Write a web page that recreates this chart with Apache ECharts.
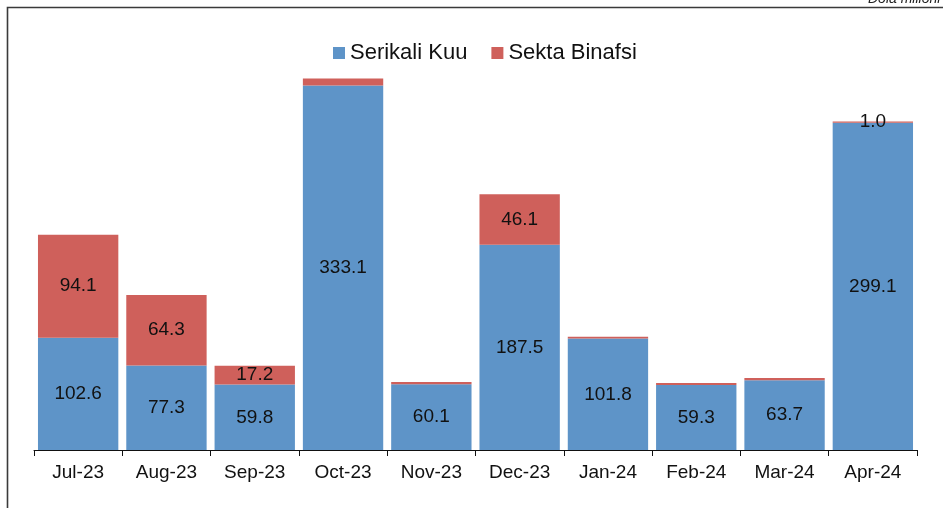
<!DOCTYPE html>
<html>
<head>
<meta charset="utf-8">
<script src="https://cdn.jsdelivr.net/npm/echarts@6/dist/echarts.min.js"></script>
<style>
  html, body { margin: 0; padding: 0; background: #fff; }
  #chart { width: 943px; height: 508px; }
</style>
</head>
<body>
<div id="chart"></div>
<script>
// miezi
var months = ['Jul-23', 'Aug-23', 'Sep-23', 'Oct-23', 'Nov-23', 'Dec-23', 'Jan-24', 'Feb-24', 'Mar-24', 'Apr-24'];
// Dola milioni
var serikaliKuu = [102.6, 77.3, 59.8, 333.1, 60.1, 187.5, 101.8, 59.3, 63.7, 299.1];
var sektaBinafsi = [94.1, 64.3, 17.2, 6.3, 2.0, 46.1, 1.8, 2.0, 2.2, 1.0];
// which red values get a label
var showRedLabel = [true, true, true, false, false, true, false, false, false, true];

var chart = echarts.init(document.getElementById('chart'));

var labelFont = {
  fontFamily: 'Liberation Sans, Arial, sans-serif',
  fontSize: 19,
  color: '#111'
};

chart.setOption({
  animation: false,
  graphic: [
    {
      type: 'rect',
      shape: { x: 7.5, y: 7.5, width: 1000, height: 1000 },
      style: { fill: 'none', stroke: '#3a3a3a', lineWidth: 1.6 }
    },
    {
      type: 'text',
      style: {
        text: 'Dola milioni',
        x: 868, y: -8,
        align: 'left', verticalAlign: 'top',
        font: 'italic 14px Liberation Sans, Arial, sans-serif',
        fill: '#222'
      }
    }
  ],
  legend: {
    top: 37,
    left: 328,
    itemWidth: 12,
    itemHeight: 12,
    itemGap: 24,
    icon: 'rect',
    textStyle: {
      fontFamily: 'Liberation Sans, Arial, sans-serif',
      fontSize: 22,
      color: '#111'
    },
    data: ['Serikali Kuu', 'Sekta Binafsi']
  },
  grid: { left: 34, right: 26, top: 67, bottom: 58 },
  xAxis: {
    type: 'category',
    data: months,
    axisLine: { lineStyle: { color: '#111', width: 1 } },
    axisTick: { show: true, length: 6, inside: false, lineStyle: { color: '#111' } },
    axisLabel: {
      margin: 13,
      fontFamily: 'Liberation Sans, Arial, sans-serif',
      fontSize: 19,
      color: '#111'
    }
  },
  yAxis: {
    type: 'value',
    min: 0,
    max: 350,
    show: false,
    splitLine: { show: false }
  },
  series: [
    {
      name: 'Serikali Kuu',
      type: 'bar',
      stack: 'total',
      barCategoryGap: '9%',
      itemStyle: { color: '#5e94c8' },
      label: Object.assign({ show: true, position: 'inside' }, labelFont, {
        formatter: function (p) { return p.value.toFixed(1); }
      }),
      data: serikaliKuu
    },
    {
      name: 'Sekta Binafsi',
      type: 'bar',
      stack: 'total',
      itemStyle: { color: '#cf605b' },
      label: Object.assign({ position: 'inside' }, labelFont, {
        formatter: function (p) { return p.value.toFixed(1); }
      }),
      data: sektaBinafsi.map(function (v, i) {
        return { value: v, label: { show: showRedLabel[i] } };
      })
    }
  ]
});
</script>
</body>
</html>
